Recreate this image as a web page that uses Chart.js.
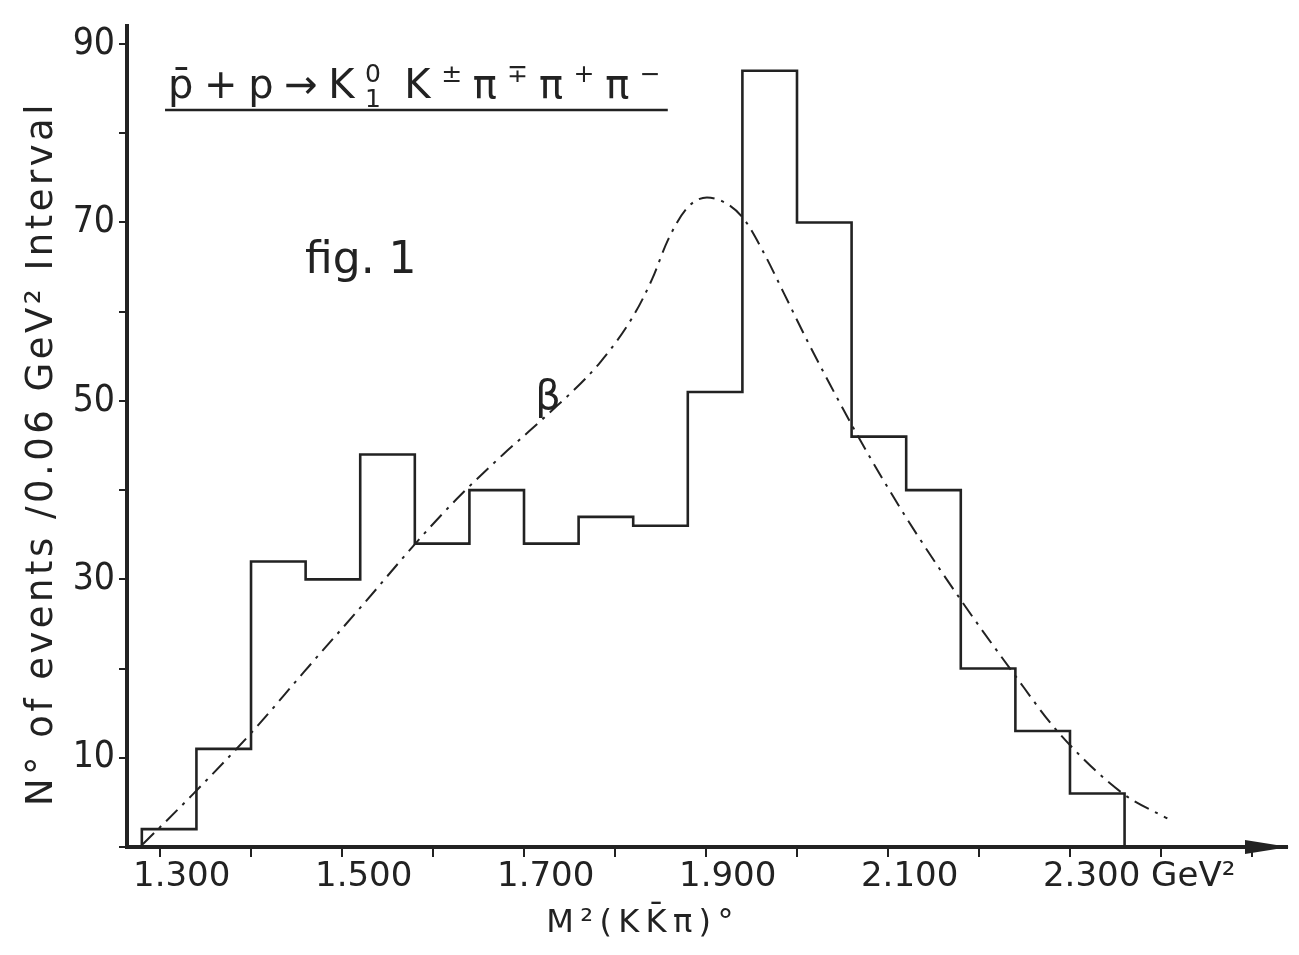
<!DOCTYPE html>
<html>
<head>
<meta charset="utf-8">
<script src="https://cdn.jsdelivr.net/npm/chart.js@4.4.0/dist/chart.umd.min.js"></script>
<style>
  html, body { margin: 0; padding: 0; background: #ffffff; }
  #wrap { width: 1299px; height: 955px; position: relative; }
  canvas { display: block; }
</style>
</head>
<body>
<div id="wrap"><canvas id="c" width="1299" height="955"></canvas></div>
<script>
// ---------------- data ----------------
const binEdges = [1.28, 1.34, 1.40, 1.46, 1.52, 1.58, 1.64, 1.70, 1.76, 1.82, 1.88, 1.94, 2.00, 2.06, 2.12, 2.18, 2.24, 2.30, 2.36];
const counts   = [2, 11, 32, 30, 44, 34, 40, 34, 37, 36, 51, 87, 70, 46, 40, 20, 13, 6];

const curveX = [1.281, 1.336, 1.403, 1.458, 1.525, 1.584, 1.626, 1.677, 1.723, 1.7835, 1.820, 1.841, 1.858, 1.879, 1.901, 1.926, 1.943, 1.963, 1.985, 2.011, 2.036, 2.064, 2.095, 2.132, 2.182, 2.237, 2.286, 2.358, 2.407];
const curveY = [0.3, 5.9, 13.1, 19.6, 27.4, 34.4, 39.0, 44.0, 48.2, 54.3, 59.5, 63.7, 68.0, 71.6, 72.8, 71.9, 70.2, 66.7, 62.2, 56.8, 51.9, 46.6, 41.1, 35.0, 27.4, 19.6, 13.0, 6.0, 3.2];

const xLabelValues = [1.3, 1.5, 1.7, 1.9, 2.1, 2.3];
const xTickLabels  = ['1.300', '1.500', '1.700', '1.900', '2.100', '2.300 GeV²'];
const yLabelValues = [10, 30, 50, 70, 90];
const yTickLabels  = ['10', '30', '50', '70', '90'];

const figText = 'fig. 1';
const curveLabel = 'β';
const xTitle = 'M²(KK̄π)°';
const yTitle = 'N° of events /0.06 GeV² Interval';

// ---------------- style ----------------
const INK = '#222222';
const FONT = '"DejaVu Sans", "Liberation Sans", sans-serif';
const CFONT = '"DejaVu Sans Condensed", "DejaVu Sans", "Liberation Sans", sans-serif';

// histogram outline points built from the bin edges and counts
const histPts = [{ x: binEdges[0], y: 0 }];
counts.forEach((c, i) => histPts.push({ x: binEdges[i], y: c }));
histPts.push({ x: binEdges[binEdges.length - 1], y: 0 });

const curvePts = curveX.map((x, i) => ({ x, y: curveY[i] }));

function findLabel(values, labels, v) {
  for (let i = 0; i < values.length; i++) if (Math.abs(values[i] - v) < 1e-6) return labels[i];
  return '';
}

function drawParts(ctx, parts, x0, baseline, size, targetW) {
  const items = parts.map(p => {
    if (p.t !== undefined) {
      ctx.font = size + 'px ' + FONT;
      return { p, w: ctx.measureText(p.t).width };
    }
    ctx.font = Math.round(size * 0.62) + 'px ' + FONT;
    const w = Math.max(p.sup ? ctx.measureText(p.sup).width : 0, p.sub ? ctx.measureText(p.sub).width : 0);
    return { p, w };
  });
  const nat = items.reduce((a, b) => a + b.w, 0);
  const gap = targetW ? (targetW - nat) / (items.length - 1) : 0;
  let x = x0;
  items.forEach(it => {
    const p = it.p;
    if (p.t !== undefined) {
      ctx.font = size + 'px ' + FONT;
      ctx.fillText(p.t, x, baseline);
    } else {
      ctx.font = Math.round(size * 0.62) + 'px ' + FONT;
      if (p.sup) ctx.fillText(p.sup, x, baseline - size * 0.42);
      if (p.sub) ctx.fillText(p.sub, x, baseline + size * 0.22);
    }
    x += it.w + gap;
  });
}

function spacedText(ctx, text, cx, cy, font, targetW) {
  ctx.font = font;
  ctx.letterSpacing = '0px';
  const w0 = ctx.measureText(text).width;
  const n = Array.from(text).length;
  const sp = (targetW - w0) / n;
  ctx.letterSpacing = sp.toFixed(2) + 'px';
  const w1 = ctx.measureText(text).width;
  ctx.textAlign = 'left';
  ctx.fillText(text, cx - w1 / 2, cy);
  ctx.letterSpacing = '0px';
}

const annotations = {
  id: 'annotations',
  afterDraw(chart) {
    const { ctx, scales: { x, y } } = chart;
    ctx.save();
    ctx.fillStyle = INK;
    ctx.strokeStyle = INK;
    ctx.textBaseline = 'alphabetic';
    ctx.textAlign = 'left';

    // reaction title
    const tx0 = x.getPixelForValue(1.3055), tx1 = x.getPixelForValue(1.858);
    const tBase = y.getPixelForValue(83.9);
    drawParts(ctx, [
      { t: 'p̄' }, { t: '+' }, { t: 'p' }, { t: '→' },
      { t: 'K' }, { sup: '0', sub: '1' }, { t: ' K' }, { sup: '±' },
      { t: 'π' }, { sup: '∓' }, { t: 'π' }, { sup: '+' }, { t: 'π' }, { sup: '−' }
    ], tx0 + 3, tBase, 40, tx1 - tx0 - 10);
    const uy = y.getPixelForValue(82.6);
    ctx.lineWidth = 2.5;
    ctx.beginPath(); ctx.moveTo(tx0, uy); ctx.lineTo(tx1, uy); ctx.stroke();

    // fig. 1
    ctx.font = '44px ' + FONT;
    ctx.fillText(figText, x.getPixelForValue(1.4593), y.getPixelForValue(64.3));

    // beta label
    ctx.font = '40px ' + FONT;
    ctx.textAlign = 'center';
    ctx.fillText(curveLabel, x.getPixelForValue(1.7264), y.getPixelForValue(49.1));

    // x axis title
    ctx.textBaseline = 'alphabetic';
    spacedText(ctx, xTitle, x.getPixelForValue(1.8308), x.bottom - 23, '32px ' + FONT, 200);

    // y axis title
    ctx.save();
    ctx.translate(chart.chartArea.left - 85, y.getPixelForValue(44.1));
    ctx.rotate(-Math.PI / 2);
    ctx.textBaseline = 'middle';
    spacedText(ctx, yTitle, 0, 0, '37px ' + FONT, 705);
    ctx.restore();

    // arrow head on x axis
    const ax = x.right + 2, ay = y.bottom;
    ctx.beginPath();
    ctx.moveTo(ax, ay);
    ctx.lineTo(ax - 44, ay - 7);
    ctx.lineTo(ax - 44, ay + 7);
    ctx.closePath();
    ctx.fill();
    ctx.restore();
  }
};

new Chart(document.getElementById('c'), {
  type: 'scatter',
  data: {
    datasets: [
      {
        label: 'events',
        data: histPts,
        showLine: true,
        stepped: true,
        borderColor: INK,
        borderWidth: 2.6,
        pointRadius: 0,
        fill: false
      },
      {
        label: 'β',
        data: curvePts,
        showLine: true,
        cubicInterpolationMode: 'monotone',
        borderColor: INK,
        borderWidth: 2,
        borderDash: [16, 7, 3, 7],
        pointRadius: 0,
        fill: false
      }
    ]
  },
  options: {
    responsive: false,
    animation: false,
    devicePixelRatio: 1,
    layout: { padding: { left: 0, top: 18, right: 12, bottom: 0 } },
    plugins: { legend: { display: false }, tooltip: { enabled: false }, title: { display: false } },
    scales: {
      x: {
        type: 'linear',
        position: 'bottom',
        min: 1.2637,
        max: 2.5385,
        afterFit(scale) { scale.height = 108; },
        border: { display: true, color: INK, width: 4 },
        grid: { display: true, drawOnChartArea: false, drawTicks: true, tickLength: 10, color: INK, lineWidth: 2 },
        ticks: {
          stepSize: 0.1,
          includeBounds: false,
          autoSkip: false,
          maxRotation: 0,
          align: 'start',
          labelOffset: -27,
          padding: 0,
          color: INK,
          font: { family: FONT, size: 34 },
          callback: (v) => findLabel(xLabelValues, xTickLabels, v)
        }
      },
      y: {
        type: 'linear',
        position: 'left',
        min: 0,
        max: 92,
        afterFit(scale) { scale.width = 127; },
        border: { display: true, color: INK, width: 4 },
        grid: { display: true, drawOnChartArea: false, drawTicks: true, tickLength: 8, color: INK, lineWidth: 2 },
        ticks: {
          stepSize: 10,
          includeBounds: false,
          autoSkip: false,
          padding: 4,
          color: INK,
          font: { family: CFONT, size: 37 },
          callback: (v) => findLabel(yLabelValues, yTickLabels, v)
        }
      }
    }
  },
  plugins: [annotations]
});
</script>
</body>
</html>
